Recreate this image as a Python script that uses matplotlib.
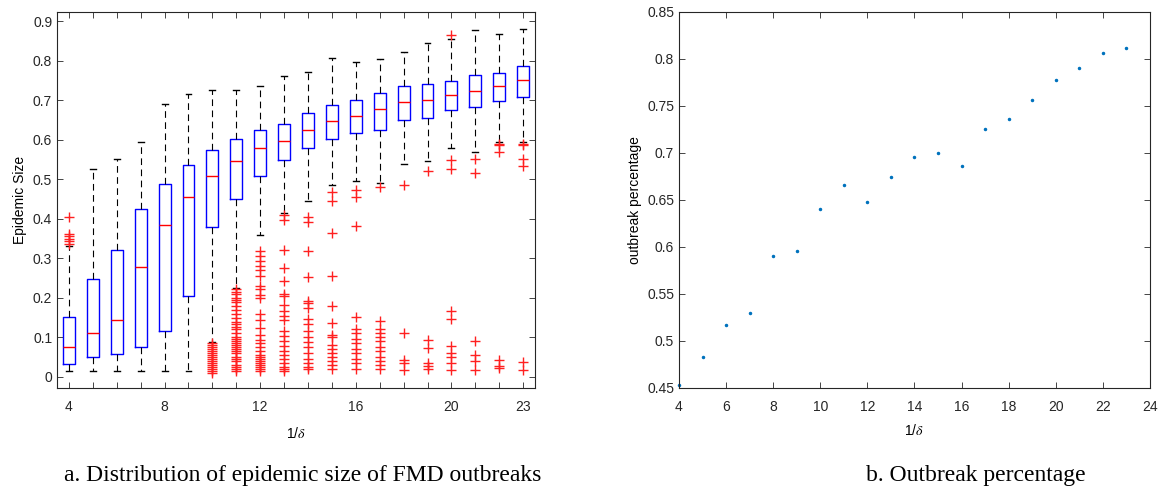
"""
FMD outbreaks : distribution de la taille épidémique + pourcentage d'épidémie
"""

import matplotlib
matplotlib.use("Agg")
import matplotlib.pyplot as plt

plt.rcParams["font.family"] = ["Liberation Sans", "DejaVu Sans"]
plt.rcParams["mathtext.fontset"] = "stix"

# ── données ────────────────────────────────────────────────────────────────
positions = list(range(4, 24))
q1 = [0.033, 0.050, 0.058, 0.075, 0.115, 0.205, 0.379, 0.449, 0.508, 0.548,
      0.578, 0.602, 0.617, 0.624, 0.650, 0.655, 0.675, 0.683, 0.697, 0.708]
med = [0.075, 0.111, 0.144, 0.277, 0.383, 0.455, 0.508, 0.545, 0.578, 0.597,
       0.624, 0.647, 0.660, 0.677, 0.695, 0.700, 0.714, 0.724, 0.735, 0.751]
q3 = [0.151, 0.248, 0.322, 0.424, 0.488, 0.535, 0.574, 0.601, 0.624, 0.640,
      0.667, 0.687, 0.701, 0.717, 0.736, 0.740, 0.748, 0.763, 0.768, 0.786]
whis_lo = [0.016, 0.016, 0.016, 0.016, 0.016, 0.016, 0.088, 0.225, 0.360, 0.415,
           0.446, 0.486, 0.496, 0.490, 0.538, 0.547, 0.578, 0.570, 0.593, 0.593]
whis_hi = [0.330, 0.526, 0.550, 0.593, 0.690, 0.716, 0.726, 0.725, 0.736, 0.762,
           0.771, 0.807, 0.797, 0.803, 0.821, 0.844, 0.854, 0.877, 0.867, 0.880]
outliers = [
    [0.405, 0.362, 0.356, 0.350, 0.345, 0.335],
    [], [], [], [], [],
    [0.085, 0.080, 0.075, 0.070, 0.065, 0.060, 0.055, 0.050, 0.045, 0.040,
     0.035, 0.030, 0.025, 0.020, 0.015, 0.010],
    [0.222, 0.215, 0.210, 0.200, 0.195, 0.190, 0.180, 0.170, 0.160, 0.150,
     0.140, 0.135, 0.125, 0.120, 0.110, 0.100, 0.095, 0.090, 0.085, 0.080,
     0.075, 0.070, 0.065, 0.060, 0.050, 0.045, 0.040, 0.030, 0.025, 0.020, 0.015],
    [0.318, 0.305, 0.294, 0.280, 0.270, 0.254, 0.229, 0.222, 0.207, 0.200,
     0.158, 0.145, 0.124, 0.105, 0.094, 0.085, 0.075, 0.065, 0.055, 0.050,
     0.045, 0.040, 0.035, 0.030, 0.025, 0.020, 0.015],
    [0.410, 0.398, 0.322, 0.276, 0.242, 0.210, 0.205, 0.183, 0.166, 0.155,
     0.145, 0.115, 0.103, 0.090, 0.078, 0.065, 0.055, 0.045, 0.035, 0.025,
     0.020, 0.015],
    [0.404, 0.392, 0.318, 0.253, 0.191, 0.187, 0.175, 0.147, 0.133, 0.115,
     0.100, 0.088, 0.075, 0.060, 0.045, 0.035, 0.025, 0.020],
    [0.468, 0.446, 0.364, 0.254, 0.179, 0.137, 0.107, 0.100, 0.080, 0.070,
     0.060, 0.050, 0.040, 0.030, 0.020],
    [0.474, 0.454, 0.381, 0.151, 0.120, 0.110, 0.095, 0.085, 0.070, 0.060,
     0.045, 0.035, 0.020],
    [0.480, 0.141, 0.120, 0.110, 0.100, 0.090, 0.075, 0.065, 0.050, 0.040,
     0.030, 0.020],
    [0.486, 0.111, 0.042, 0.035, 0.017],
    [0.520, 0.094, 0.073, 0.035, 0.027, 0.020],
    [0.865, 0.549, 0.527, 0.166, 0.147, 0.078, 0.060, 0.050, 0.035, 0.017],
    [0.551, 0.517, 0.092, 0.056, 0.040, 0.017],
    [0.590, 0.586, 0.568, 0.044, 0.027, 0.023],
    [0.590, 0.586, 0.551, 0.533, 0.037, 0.017],
]
xtick_labels_a = [4, 8, 12, 16, 20, 23]

inv_delta = list(range(4, 24))
outbreak_pct = [0.4535, 0.483, 0.517, 0.530, 0.590, 0.596, 0.640, 0.666, 0.648, 0.674,
                0.696, 0.700, 0.686, 0.726, 0.736, 0.756, 0.778, 0.790, 0.806, 0.812]

# ── figure ─────────────────────────────────────────────────────────────────
fig = plt.figure(figsize=(11.69, 4.91), dpi=100, facecolor="white")
ax_a = fig.add_axes([0.0488, 0.2098, 0.4089, 0.7658])
ax_b = fig.add_axes([0.5808, 0.2098, 0.4029, 0.7658])

# ── panneau a : boxplots ──────────────────────────────────────────────────
stats = [
    {"med": m, "q1": a, "q3": b, "whislo": lo, "whishi": hi, "fliers": f}
    for m, a, b, lo, hi, f in zip(med, q1, q3, whis_lo, whis_hi, outliers)
]
ax_a.bxp(
    stats, positions=positions, widths=0.5, capwidths=0.25,
    boxprops=dict(color="#0000ff", linewidth=1.0),
    medianprops=dict(color="#ff0000", linewidth=1.0),
    whiskerprops=dict(color="black", linewidth=0.8, linestyle=(0, (6, 4))),
    capprops=dict(color="black", linewidth=1.0),
    flierprops=dict(marker="+", markeredgecolor="#ff2020", markersize=7,
                    markeredgewidth=1.0, linestyle="none"),
)
ax_a.set_xlim(3.5, 23.5)
ax_a.set_ylim(-0.028, 0.923)
ax_a.set_xticks(positions)
ax_a.set_xticklabels([str(p) if p in xtick_labels_a else "" for p in positions])
ax_a.set_yticks([0, 0.1, 0.2, 0.3, 0.4, 0.5, 0.6, 0.7, 0.8, 0.9])
ax_a.set_yticklabels(["0", "0.1", "0.2", "0.3", "0.4", "0.5", "0.6", "0.7", "0.8", "0.9"])
ax_a.set_ylabel("Epidemic Size", fontsize=10)
ax_a.set_xlabel(r"1/$\delta$", fontsize=10, labelpad=8)

# ── panneau b : pourcentage d'épidémie ────────────────────────────────────
ax_b.plot(inv_delta, outbreak_pct, linestyle="none", marker=".",
          markersize=3, color="#0072bd", clip_on=False)
ax_b.set_xlim(4, 24)
ax_b.set_ylim(0.45, 0.85)
ax_b.set_xticks(range(4, 25, 2))
ax_b.set_yticks([0.45, 0.5, 0.55, 0.6, 0.65, 0.7, 0.75, 0.8, 0.85])
ax_b.set_yticklabels(["0.45", "0.5", "0.55", "0.6", "0.65", "0.7", "0.75", "0.8", "0.85"])
ax_b.set_ylabel("outbreak percentage", fontsize=10)
ax_b.set_xlabel(r"1/$\delta$", fontsize=10, labelpad=6)

for ax in (ax_a, ax_b):
    ax.tick_params(direction="in", top=True, right=True, length=4,
                   width=0.6, labelsize=10, colors="#262626")
    ax.tick_params(axis="x", pad=9)
    for s in ax.spines.values():
        s.set_linewidth(0.8)
        s.set_color("#262626")

# ── légendes sous les panneaux ────────────────────────────────────────────
fig.text(303 / 1169, 1 - 476 / 491, "a. Distribution of epidemic size of FMD outbreaks",
         ha="center", va="center", fontsize=17, family="Liberation Serif")
fig.text(976 / 1169, 1 - 476 / 491, "b. Outbreak percentage",
         ha="center", va="center", fontsize=17, family="Liberation Serif")

fig.savefig("out.png", dpi=100)
